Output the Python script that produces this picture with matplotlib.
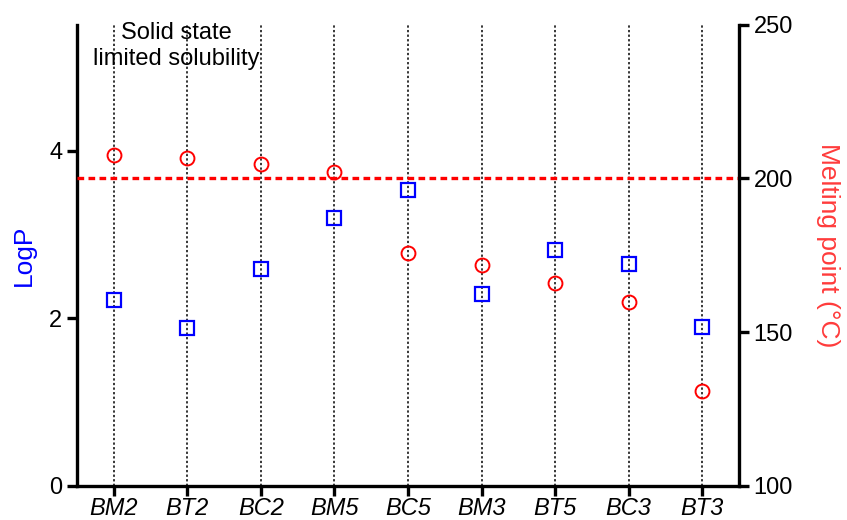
import matplotlib
matplotlib.use('Agg')
import matplotlib.pyplot as plt
import numpy as np

plt.rcParams['font.family'] = ['Liberation Sans', 'DejaVu Sans']

# Datos
compuestos = ['BM2', 'BT2', 'BC2', 'BM5', 'BC5', 'BM3', 'BT5', 'BC3', 'BT3']
logp = [2.22, 1.88, 2.59, 3.19, 3.53, 2.29, 2.81, 2.64, 1.89]
punto_fusion = [207.8, 206.8, 204.8, 202.0, 175.8, 171.8, 165.8, 159.8, 130.8]
limite_fusion = 200

x = np.arange(len(compuestos))

fig = plt.figure(figsize=(8.47, 5.2), dpi=100)
ax1 = fig.add_axes([0.0909, 0.0663, 0.7816, 0.8857])
ax2 = ax1.twinx()

# Líneas verticales punteadas por compuesto
for xi in x:
    ax1.axvline(xi, color='black', linestyle=(0, (1.5, 1.5)), linewidth=1.1, zorder=1)

# LogP (cuadrados azules)
ax1.plot(x, logp, linestyle='none', marker='s', markersize=10.5,
         markerfacecolor='none', markeredgecolor='#0000ff', markeredgewidth=1.6, zorder=5)

# Punto de fusión (círculos rojos)
ax2.axhline(limite_fusion, color='#ff0000', linewidth=2.4, dashes=(2.0, 1.3), zorder=2)
ax2.plot(x, punto_fusion, linestyle='none', marker='o', markersize=10,
         markerfacecolor='none', markeredgecolor='#ff0000', markeredgewidth=1.4, zorder=5)

ax1.set_xlim(-0.5, len(compuestos) - 0.5)
ax1.set_ylim(0, 5.5)
ax2.set_ylim(100, 250)
ax1.set_yticks([0, 2, 4])
ax2.set_yticks([100, 150, 200, 250])
ax1.set_xticks(x)
ax1.set_xticklabels(compuestos, fontstyle='italic', fontsize=16.5)

for ax in (ax1, ax2):
    ax.spines['top'].set_visible(False)
    for s in ('left', 'right', 'bottom'):
        ax.spines[s].set_linewidth(2.4)
    ax.tick_params(width=2.4, length=7, labelsize=17, direction='out')
ax1.spines['right'].set_visible(False)
ax2.spines['left'].set_visible(False)
ax2.spines['bottom'].set_visible(False)
ax1.tick_params(axis='x', pad=1.5)

ax1.set_ylabel('LogP', color='#0000ff', fontsize=19, labelpad=10)
ax2.set_ylabel('Melting point (°C)', color='#ff3b3b', fontsize=19,
               rotation=270, labelpad=34)
ax2.yaxis.label.set_y(0.522)

ax1.text(0.85, 5.54, 'Solid state\nlimited solubility', ha='center', va='top',
         fontsize=17, linespacing=1.25, zorder=6)

fig.savefig('out.png', dpi=100)
